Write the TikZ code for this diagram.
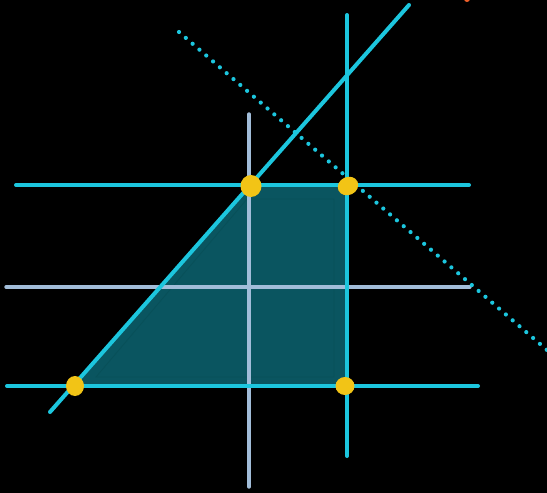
\documentclass[tikz,border=0pt]{standalone}
\usetikzlibrary{shapes.geometric}
\definecolor{cyanl}{HTML}{1CC6DE}
\definecolor{paleb}{HTML}{A2BDD9}
\definecolor{tealf}{HTML}{0A5560}
\definecolor{tealin}{HTML}{085059}
\definecolor{dotyel}{HTML}{F2C416}
\definecolor{orng}{HTML}{F0602A}
\begin{document}
\begin{tikzpicture}[x=1pt,y=-1pt,
  cline/.style={draw=cyanl,line width=4pt,line cap=round},
  pline/.style={draw=paleb,line width=3.4pt,line cap=round},
  dline/.style={draw=cyanl,line width=4.2pt,line cap=round,dash pattern=on 0pt off 9pt},
  vtx/.style={fill=dotyel,draw=none,inner sep=0pt,ellipse}]
\fill[black] (0,0) rectangle (547,493);
\useasboundingbox (0,0) rectangle (547,493);
% coordinates
\coordinate (A) at (75,386);
\coordinate (B) at (251,185);
\coordinate (C) at (347,185);
\coordinate (D) at (347,386);
\coordinate (h1l) at (16,185); \coordinate (h1r) at (469,185);
\coordinate (h2l) at (6,287); \coordinate (h2r) at (470,287);
\coordinate (h3l) at (7,386); \coordinate (h3r) at (478,386);
\coordinate (v1t) at (249,114); \coordinate (v1b) at (249,487);
\coordinate (v2t) at (347,15); \coordinate (v2b) at (347,456);
\coordinate (gl) at (50,412); \coordinate (gr) at (409,5);
\coordinate (ds) at (179,32); \coordinate (de) at (547,350);
% filled region
\fill[tealf] (A) -- (B) -- (C) -- (D) -- cycle;
\draw[tealin,line width=0.8pt] (96,377) -- (247,199) -- (334,199) -- (334,377) -- cycle;
% lines
\draw[pline] (h2l) -- (h2r);
\draw[pline] (v1t) -- (v1b);
\draw[cline] (h1l) -- (h1r);
\draw[cline] (h3l) -- (h3r);
\draw[cline] (v2t) -- (v2b);
\draw[cline] (gl) -- (gr);
\draw[dline] (ds) -- (de);
% vertices
\node[vtx,minimum width=21pt,minimum height=22pt] (pB) at (251,186) {};
\node[vtx,minimum width=21pt,minimum height=18pt,rotate=25] (pC) at (348,186) {};
\node[vtx,minimum width=18pt,minimum height=20pt] (pA) at (75,386) {};
\node[vtx,minimum width=19pt,minimum height=18pt] (pD) at (345,386) {};
\node[fill=orng,circle,inner sep=0pt,minimum size=6pt] (o) at (467,-1) {};
\end{tikzpicture}
\end{document}
